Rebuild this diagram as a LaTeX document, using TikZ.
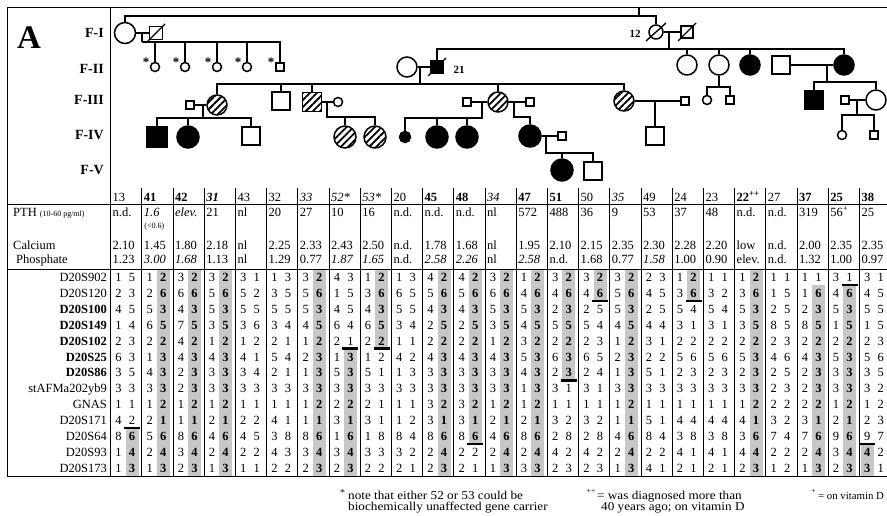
\documentclass[tikz,border=0pt]{standalone}
\usepackage{fontspec}
\setmainfont{Liberation Serif}
\newfontfamily\widefont[FakeStretch=1.1]{Liberation Serif}
\usetikzlibrary{patterns.meta}

\tikzset{
  ln/.style={line width=1.4pt},
  sym/.style={draw, line width=1.5pt, inner sep=0pt},
  fem/.style={sym, circle, minimum size=20pt},
  mal/.style={sym, rectangle, minimum size=18pt},
  sfem/.style={sym, circle, minimum size=9pt},
  smal/.style={sym, rectangle, minimum size=8pt},
  aff/.style={fill=black},
  hat/.style={pattern={Lines[angle=45,distance=5pt,line width=1.8pt]}},
  gen/.style={font=\bfseries\fontsize{14}{14}\selectfont, anchor=east, inner sep=0pt},
  lab/.style={font=\bfseries\fontsize{11}{11}\selectfont, inner sep=0pt},
  ast/.style={font=\bfseries\fontsize{13}{13}\selectfont, inner sep=0pt},
  dat/.style={font=\fontsize{12.5}{13}\selectfont, inner sep=0pt, anchor=base},
  hd/.style={font=\fontsize{12.5}{13}\selectfont, inner sep=0pt, anchor=base west},
  mk/.style={font=\fontsize{12.5}{13}\selectfont, inner sep=0pt, anchor=base east},
  shadecell/.style={fill=black!22},
  recomb/.style={line width=2.3pt},
  tabrule/.style={line width=0.8pt},
  colrule/.style={line width=0.6pt},
  foot/.style={font=\widefont\fontsize{12}{12}\selectfont, inner sep=0pt, anchor=base west},
}

\def\frlist{{10,0,0,0,99,99,0,5,0,99,0,0,0,0,0,0,0,99,0,99,0,99,1,1,99}}
\def\trlist{{12,12,12,12,-1,-1,12,12,4,-1,12,10,12,12,6,1,12,-1,1,-1,12,-1,12,12,-1}}

\newcommand\mrow[3]{%
  \node[mk] (m#1) at (107,{ry(#1)+4.5}) {#2};
  \foreach \alA/\alB [count=\k from 0] in {#3} {
    \pgfmathtruncatemacro\fr{\frlist[\k]}
    \pgfmathtruncatemacro\tr{\trlist[\k]}
    \pgfmathtruncatemacro\isb{and(#1>=\fr,#1<=\tr)}
    \ifnum\isb=1 \def\bx{\textbf{\alB}}\else\def\bx{\alB}\fi
    \def\ax{\alA}
    \ifnum\k=24 \ifnum#1>10\relax \def\ax{\textbf{\alA}}\fi\fi
    \node[dat] (v#1-\k-a) at ({cx(\k)+8},{ry(#1)+4.5}) {\ax};
    \node[dat] (v#1-\k-b) at ({cx(\k)+21.5},{ry(#1)+4.5}) {\bx};
  }
}

\begin{document}
\begin{tikzpicture}[x=1pt,y=-1pt,
  declare function={cx(\k)=110.5+31.2*\k; ry(\i)=269+15.92*(\i+0.5);}]
\useasboundingbox (0,0) rectangle (887,516);

% ---------- shading strips ----------
\foreach \k in {0,...,24} {
  \pgfmathtruncatemacro\fr{\frlist[\k]}
  \pgfmathtruncatemacro\tr{\trlist[\k]}
  \ifnum\fr>\tr\else
    \fill[shadecell] ({cx(\k)+15},{ry(\fr)-7.96}) rectangle ({cx(\k)+28},{ry(\tr)+7.96});
  \fi
}
\fill[shadecell] ({cx(24)+1.5},{ry(11)-7.96}) rectangle ({cx(24)+14.5},{ry(12)+7.96});

% ---------- frame and rules ----------
\draw[tabrule] (7,476) -- (7,7) -- (887,7);
\draw[tabrule] (110.5,7) -- (110.5,476);
\draw[tabrule] (7,204) -- (887,204);
\draw[tabrule] (7,269) -- (887,269);
\draw[tabrule] (7,476) -- (887,476);
\foreach \k in {1,...,24} \draw[colrule] ({cx(\k)},188) -- ({cx(\k)},476);

% ---------- title and generation labels ----------
\node[font=\bfseries\fontsize{33}{33}\selectfont, inner sep=0pt] (A) at (29,38) {A};
\node[gen] (gI) at (104,33) {F-I};
\node[gen] (gII) at (104,69) {F-II};
\node[gen] (gIII) at (104,100) {F-III};
\node[gen] (gIV) at (104,135) {F-IV};
\node[gen] (gV) at (104,170) {F-V};

% ---------- pedigree: F-I ----------
\node[fem,minimum size=21pt] (I1) at (125,33) {};
\node[mal,minimum size=13pt] (I2) at (156,33) {};
\draw[ln] (I2.center) ++(-9,9) -- ++(18,-18);
\draw[ln] (I1.east) -- (I2.west);
\node[fem,minimum size=14pt] (I3) at (656,32) {};
\draw[ln] (I3.center) ++(-10,9) -- ++(20,-18);
\node[mal,minimum size=12pt] (I4) at (687,32) {};
\draw[ln] (I4.center) ++(-9,9) -- ++(18,-18);
\node[lab] (l12) at (635,34) {12};
\draw[ln] (I3.east) -- (I4.west);
\coordinate (top0) at (639,7);
\coordinate (sib0) at (639,16);
\draw[ln] (top0) -- (sib0);
\draw[ln] (I1.north) |- (I3.north |- sib0) -- (I3.north);

% F-II left sibship
\coordinate (dI) at (142,33);
\coordinate (sI) at (142,42);
\draw[ln] (dI) -- (sI);
\foreach \n/\x in {c1/155,c2/185,c3/217,c4/247} {
  \node[sfem] (\n) at (\x,67) {};
  \node[ast] (ast\n) at (\x-9,62) {*};
  \draw[ln] (\n.north) -- (\n.north |- sI);
}
\node[smal] (c5) at (280,67) {};
\node[ast] (astc5) at (271,62) {*};
\draw[ln] (sI) -- (sI -| c5.north) -- (c5.north);

% ---------- F-II ----------
\coordinate (dII) at (669,32);
\coordinate (sII) at (669,49);
\draw[ln] (dII) -- (sII);
\node[fem] (II1) at (407,67) {};
\node[mal,aff,minimum size=13pt] (II2) at (437,67) {};
\draw[ln] (II2.center) ++(-9,9) -- ++(18,-18);
\node[lab] (l21) at (459,70) {21};
\draw[ln] (II1.east) -- (II2.west);
\node[fem] (II3) at (687,65) {};
\node[fem] (II4) at (719,65) {};
\node[fem,aff] (II5) at (750,65) {};
\node[mal] (II6) at (781,65) {};
\node[fem,aff] (II7) at (844,65) {};
\draw[ln] (II2.north) |- (II7.north |- sII) -- (II7.north);
\foreach \n in {II3,II4,II5} \draw[ln] (\n.north) -- (\n.north |- sII);
\draw[ln] (II6.east) -- (II7.west);

% ---------- F-III ----------
\coordinate (dII2) at (420,67);
\coordinate (sIII) at (420,84);
\draw[ln] (dII2) -- (sIII);
\node[smal] (III0) at (190,105) {};
\node[fem,hat] (III1) at (217,105) {};
\draw[ln] (III0.east) -- (III1.west);
\node[mal] (III2) at (281,101) {};
\node[mal,hat,minimum size=19pt] (III3) at (312,102) {};
\node[sfem] (III4) at (338,102) {};
\draw[ln] (III3.east) -- (III4.west);
\node[smal] (III5) at (467,102) {};
\node[fem,hat] (III6) at (498,102) {};
\node[smal] (III7) at (530,102) {};
\draw[ln] (III5.east) -- (III6.west);
\draw[ln] (III6.east) -- (III7.west);
\node[fem,hat] (III8) at (624,101) {};
\node[smal] (III9) at (685,101) {};
\draw[ln] (III8.east) -- (III9.west);
\draw[ln] (III1.north) |- (III8.north |- sIII) -- (III8.north);
\foreach \n in {III2,III3,III6} \draw[ln] (\n.north) -- (\n.north |- sIII);

\coordinate (dII4) at (719,87);
\node[sfem] (III10) at (707,100) {};
\node[smal] (III11) at (730,100) {};
\draw[ln] (II4.south) -- (dII4);
\draw[ln] (III10.north) |- (dII4) -| (III11.north);

\coordinate (dII6) at (827,65);
\coordinate (sIII2) at (827,82);
\draw[ln] (dII6) -- (sIII2);
\node[mal,aff,minimum size=19pt] (III12) at (814,100) {};
\node[smal] (III13) at (845,100) {};
\node[fem] (III14) at (876,100) {};
\draw[ln] (III12.north) |- (sIII2) -| (III14.north);
\draw[ln] (III13.east) -- (III14.west);

% ---------- F-IV ----------
\coordinate (dIII0) at (203,105);
\coordinate (sIV0) at (203,118);
\draw[ln] (dIII0) -- (sIV0);
\node[mal,aff,minimum size=20pt] (IV1) at (157,137) {};
\node[fem,aff,minimum size=22pt] (IV2) at (188,137) {};
\node[mal] (IV3) at (251,136) {};
\draw[ln] (IV1.north) |- (IV3.north |- sIV0) -- (IV3.north);
\draw[ln] (IV2.north) -- (IV2.north |- sIV0);

\coordinate (dIII3) at (327,102);
\coordinate (sIV1) at (327,117);
\node[fem,hat,minimum size=22pt] (IV4) at (345,137) {};
\node[fem,hat,minimum size=22pt] (IV5) at (375,137) {};
\draw[ln] (dIII3) -- (sIV1) -| (IV5.north);
\draw[ln] (IV4.north) -- (IV4.north |- sIV1);

\coordinate (dIII5) at (482,102);
\coordinate (sIV2) at (482,118);
\node[fem,aff,minimum size=11pt] (IV6) at (405,137) {};
\node[fem,aff,minimum size=22pt] (IV7) at (437,137) {};
\node[fem,aff,minimum size=22pt] (IV8) at (467,137) {};
\draw[ln] (dIII5) -- (sIV2) -| (IV6.north);
\foreach \n in {IV7,IV8} \draw[ln] (\n.north) -- (\n.north |- sIV2);

\coordinate (dIII6) at (514,102);
\coordinate (bIII6) at (514,117);
\node[fem,aff,minimum size=22pt] (IV9) at (530,136) {};
\draw[ln] (dIII6) -- (bIII6) -| (IV9.north);

\coordinate (dIII8) at (655,101);
\node[mal] (IV10) at (655,136) {};
\draw[ln] (dIII8) -- (IV10.north);

\coordinate (dIII13) at (857,100);
\coordinate (sIV3) at (857,115);
\draw[ln] (dIII13) -- (sIV3);
\node[sfem] (IV11) at (842,135) {};
\node[smal] (IV12) at (874,135) {};
\draw[ln] (IV11.north) |- (sIV3) -| (IV12.north);

% ---------- F-V ----------
\node[smal] (IV13) at (562,136) {};
\draw[ln] (IV9.east) -- (IV13.west);
\coordinate (dIV9) at (546,136);
\coordinate (sV) at (546,153);
\node[fem,aff,minimum size=22pt] (V1) at (562,170) {};
\node[mal] (V2) at (593,171) {};
\draw[ln] (dIV9) -- (sV) -| (V2.north);
\draw[ln] (V1.north) -- (V1.north |- sV);

% ---------- table header ----------
\foreach \t [count=\k from 0] in {13,\textbf{41},\textbf{42},\textbf{\textit{31}},43,32,\textit{33},\textit{52*},\textit{53*},20,\textbf{45},\textbf{48},\textit{34},\textbf{47},\textbf{51},50,\textit{35},49,24,23,\textbf{22}\textsuperscript{\textbf{++}},27,\textbf{37},\textbf{25},\textbf{38}}
  \node[hd] (id\k) at ({cx(\k)+2},201) {\t};

\node[hd] (pthlab) at (13,216) {PTH {\fontsize{8}{8}\selectfont (10-60 pg/ml)}};
\foreach \t [count=\k from 0] in {n.d.,\textit{1.6},\textit{elev.},21,nl,20,27,10,16,n.d.,n.d.,n.d.,nl,572,488,36,9,53,37,48,n.d.,n.d.,319,56\textsuperscript{+},25}
  \node[hd] (pth\k) at ({cx(\k)+2},216) {\t};
\node[hd, font=\fontsize{8}{8}\selectfont] (pthlow) at ({cx(1)+2.5},229) {(<0.6)};

\node[hd] (calab) at (13,250) {Calcium};
\foreach \t [count=\k from 0] in {2.10,1.45,1.80,2.18,nl,2.25,2.33,2.43,2.50,n.d.,1.78,1.68,nl,1.95,2.10,2.15,2.35,2.30,2.28,2.20,low,n.d.,2.00,2.35,2.35}
  \node[hd] (ca\k) at ({cx(\k)+2},250) {\t};
\node[hd] (phlab) at (16,263) {Phosphate};
\foreach \t [count=\k from 0] in {1.23,\textit{3.00},\textit{1.68},1.13,nl,1.29,0.77,\textit{1.87},\textit{1.65},n.d.,\textit{2.58},\textit{2.26},nl,\textit{2.58},n.d.,1.68,0.77,\textit{1.58},1.00,0.90,elev.,n.d.,1.32,1.00,0.97}
  \node[hd] (ph\k) at ({cx(\k)+2},263) {\t};

% ---------- haplotype rows ----------
\mrow{0}{D20S902}{1/5,1/2,3/2,3/2,3/1,1/3,3/2,4/3,1/2,1/3,4/2,4/2,3/2,1/2,3/2,3/2,3/2,2/3,1/2,1/1,1/2,1/1,1/1,3/1,3/1}
\mrow{1}{D20S120}{2/3,2/6,6/6,5/6,5/2,3/5,5/6,1/5,3/6,6/5,5/6,5/6,6/6,4/6,4/6,4/6,5/6,4/5,3/6,3/2,3/6,1/5,1/6,4/6,4/5}
\mrow{2}{\textbf{D20S100}}{4/5,5/3,4/3,5/3,5/5,5/5,5/3,4/5,4/3,5/5,4/3,4/3,5/3,5/3,2/3,2/5,5/3,2/5,5/4,5/4,5/3,2/5,2/3,5/3,5/5}
\mrow{3}{\textbf{D20S149}}{1/4,6/5,7/5,3/5,3/6,3/4,4/5,6/4,6/5,3/4,2/5,2/5,3/5,4/5,5/5,5/4,4/5,4/4,3/1,3/1,3/5,8/5,8/5,1/5,1/5}
\mrow{4}{\textbf{D20S102}}{2/3,2/2,4/2,1/2,1/2,2/1,1/2,2/1,2/2,1/1,2/2,2/2,1/2,3/2,2/2,2/3,1/2,3/1,2/2,2/2,2/2,2/3,2/2,2/2,2/3}
\mrow{5}{\textbf{D20S25}}{6/3,1/3,4/3,4/3,4/1,5/4,2/3,1/3,1/2,4/2,4/3,4/3,4/3,5/3,6/3,6/5,2/3,2/2,5/6,5/6,5/3,4/6,4/3,5/3,5/6}
\mrow{6}{\textbf{D20S86}}{3/5,4/3,2/3,3/3,3/4,2/1,1/3,5/3,5/1,1/3,3/3,3/3,3/3,4/3,2/3,2/4,1/3,5/1,2/3,2/3,2/3,2/5,2/3,3/3,3/5}
\mrow{7}{stAFMa202yb9}{3/3,3/3,2/3,3/3,3/3,3/3,3/3,3/3,3/3,3/3,3/3,3/3,3/3,1/3,3/1,3/1,3/3,3/3,3/3,3/3,3/3,2/3,2/3,3/3,3/2}
\mrow{8}{GNAS}{1/1,1/2,1/2,1/2,1/1,1/1,1/2,2/2,2/1,1/1,3/2,3/2,1/2,1/2,1/1,1/1,1/2,1/1,1/1,1/1,1/2,2/2,2/2,1/2,1/2}
\mrow{9}{D20S171}{4/2,2/1,1/1,2/1,2/2,4/1,1/1,3/1,3/1,1/2,3/1,3/1,2/1,2/1,3/2,3/2,1/1,5/1,4/4,4/4,4/1,3/2,3/1,2/1,2/3}
\mrow{10}{D20S64}{8/6,5/6,8/6,4/6,4/5,3/8,8/6,1/6,1/8,8/4,8/6,8/6,4/6,8/6,2/8,2/8,4/6,8/4,3/8,3/8,3/6,7/4,7/6,9/6,9/7}
\mrow{11}{D20S93}{1/4,2/4,3/4,2/4,2/2,4/3,3/4,3/4,3/3,3/2,2/4,2/2,2/4,2/4,4/2,4/2,2/4,2/2,4/1,4/1,4/4,2/2,2/4,3/4,4/2}
\mrow{12}{D20S173}{1/3,1/3,2/3,1/3,1/1,2/2,2/3,2/3,2/2,2/1,2/3,2/1,1/3,3/3,2/3,2/3,1/3,4/1,2/1,2/1,2/3,1/2,1/3,2/3,3/1}

% ---------- recombination bars ----------
\foreach \k/\off/\r in {0/21.5/9, 7/21.5/4, 8/21.5/4, 11/21.5/10, 14/21.5/6, 15/21.5/1, 18/21.5/1, 23/21.5/0, 24/8/10}
  \draw[recomb] ({cx(\k)+\off-8},{ry(\r)+7.96}) -- ({cx(\k)+\off+8},{ry(\r)+7.96});

% ---------- footnotes ----------
\node[foot, font=\widefont\fontsize{9}{9}\selectfont] (fs1) at (340,495) {*};
\node[foot] (fn1) at (348,499) {note that either 52 or 53 could be};
\node[foot] (fn2) at (348,510) {biochemically unaffected gene carrier};
\node[foot, font=\widefont\fontsize{7.5}{7.5}\selectfont] (fs2) at (586,493) {++};
\node[foot] (fn3) at (597,499) {= was diagnosed more than};
\node[foot] (fn4) at (601,510) {40 years ago; on vitamin D};
\node[foot, font=\widefont\fontsize{7.5}{7.5}\selectfont] (fs3) at (811,493) {+};
\node[foot, font=\fontsize{10.8}{11}\selectfont] (fn5) at (818,499) {= on vitamin D};
\end{tikzpicture}
\end{document}
